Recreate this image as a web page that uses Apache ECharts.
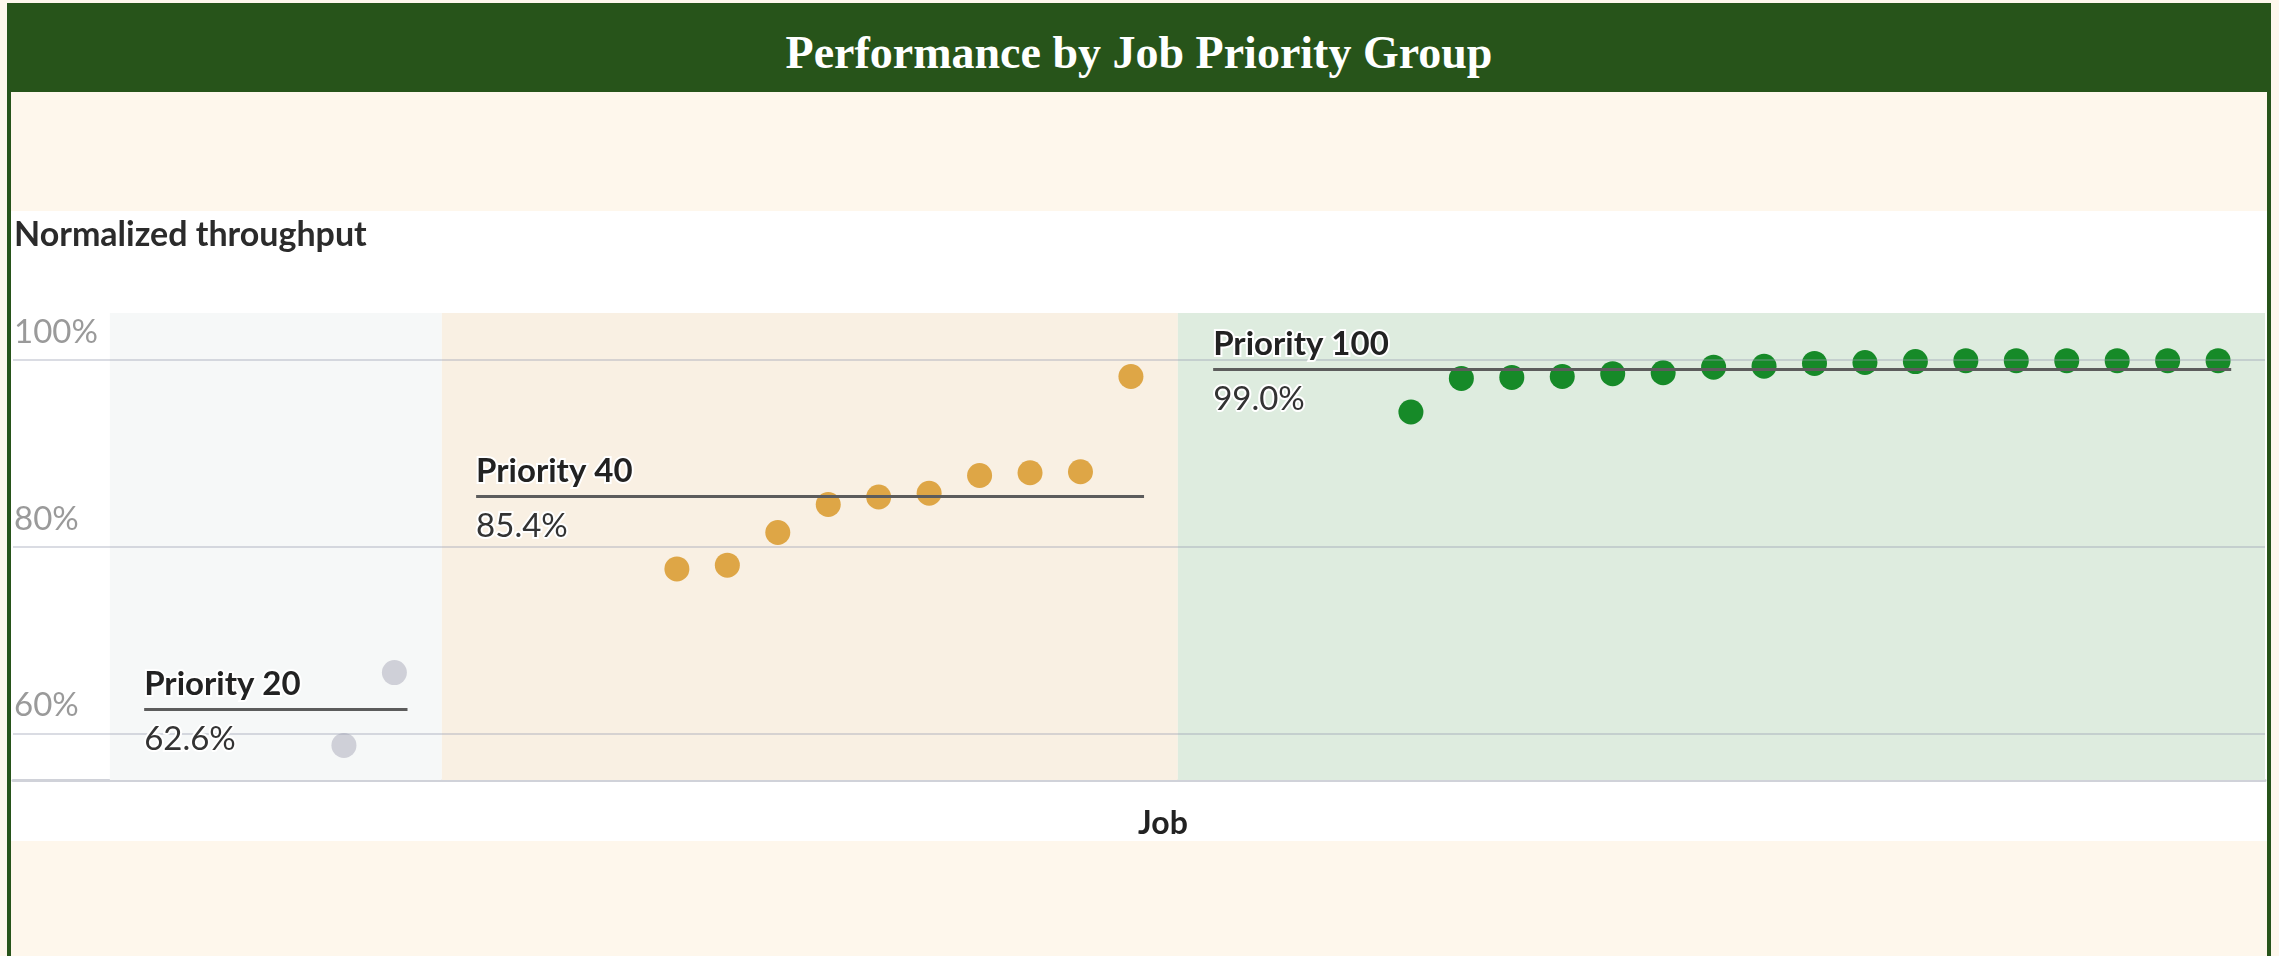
<!DOCTYPE html>
<html lang="en">
<head>
    <meta charset="UTF-8">
    <title>Performance by Job Priority Group</title>
    <style>
        html, body { margin: 0; padding: 0; }
        body { width: 2279px; height: 956px; background: #fef7ec; position: relative; overflow: hidden; }
        #header {
            position: absolute; left: 7px; top: 3px; width: 2264px; height: 89px;
            background: #27541a; color: #fff; text-align: center;
            font-family: "Liberation Serif", serif; font-weight: bold; font-size: 46px; line-height: 100px;
        }
        .border { position: absolute; top: 3px; width: 4px; height: 953px; background: #27541a; }
        #panel { position: absolute; left: 11px; top: 211px; width: 2256px; height: 630px; background: #fff; }
        #main { position: absolute; left: 11px; top: 211px; width: 2256px; height: 630px; }
    </style>
</head>
<body>
    <div id="header">Performance by Job Priority Group</div>
    <div class="border" style="left:7px"></div>
    <div class="border" style="left:2267px"></div>
    <div id="panel"></div>
    <div id="main"></div>
    <script src="https://cdn.jsdelivr.net/npm/echarts@6/dist/echarts.min.js"></script>
    <script>
        // data
        var groups = ['Priority 20', 'Priority 40', 'Priority 100'];
        var groupMeans = [62.6, 85.4, 99.0];
        var p20Values = [58.7, 66.5];
        var p40Values = [77.6, 78.0, 81.5, 84.5, 85.3, 85.7, 87.6, 87.9, 88.0, 98.2];
        var p100Values = [94.4, 98.0, 98.1, 98.2, 98.5, 98.6, 99.2, 99.3, 99.6, 99.7, 99.8, 99.9, 99.9, 99.9, 99.9, 99.9, 99.9];
        var yTicks = [60, 80, 100];

        // layout (x in job slots)
        var bandEdges = [1.92, 8.5, 23.09, 44.64];
        var firstJob = [6.56, 13.16, 27.71];
        var meanStart = [2.6, 9.18, 23.79];
        var dotColors = ['#cfd0d8', '#dea646', '#168a28'];
        var bandColors = ['#f6f8f8', '#f9f0e3', '#deecdf'];
        var FONT = 'Lato, "Noto Sans", sans-serif';

        var groupValues = [p20Values, p40Values, p100Values];

        function points(vals, start) {
            return vals.map(function (v, i) { return [start + i, v]; });
        }

        var bandData = bandColors.map(function (c, i) {
            return [{ xAxis: bandEdges[i], itemStyle: { color: c } }, { xAxis: bandEdges[i + 1] }];
        });

        // mean line per group: name above, value below
        var meanData = [];
        groups.forEach(function (g, i) {
            var x2 = firstJob[i] + groupValues[i].length - 1 + 0.26;
            meanData.push([
                { coord: [meanStart[i], groupMeans[i]], label: { position: 'insideStartTop', distance: [0, 10], formatter: g, fontWeight: 'bold', color: '#222' } },
                { coord: [x2, groupMeans[i]] }
            ]);
            meanData.push([
                { coord: [meanStart[i], groupMeans[i]], lineStyle: { color: 'rgba(0,0,0,0)' }, label: { position: 'insideStartBottom', distance: [0, 15], formatter: groupMeans[i].toFixed(1) + '%', fontWeight: 'normal', color: '#333' } },
                { coord: [x2, groupMeans[i]] }
            ]);
        });

        var option = {
            animation: false,
            title: {
                text: 'Normalized throughput',
                left: 3, top: 7, padding: 0,
                textStyle: { fontFamily: FONT, fontSize: 34, fontWeight: 'bold', color: '#2b2b2b' }
            },
            grid: { left: 2, right: 2, top: 102, bottom: 61, outerBoundsMode: 'none' },
            xAxis: {
                type: 'value', min: 0, max: bandEdges[3],
                name: 'Job', nameLocation: 'middle', nameGap: 28,
                nameTextStyle: { fontFamily: FONT, fontSize: 32, fontWeight: 'bold', color: '#222', padding: [0, 0, 0, 48] },
                axisLine: { show: true, lineStyle: { color: 'rgba(150,155,170,0.45)', width: 3 } },
                axisTick: { show: false }, axisLabel: { show: false }, splitLine: { show: false }
            },
            yAxis: {
                type: 'value', min: 55, max: 105,
                axisLine: { show: false }, axisTick: { show: false }, axisLabel: { show: false }, splitLine: { show: false }
            },
            series: [{
                type: 'line', data: [], z: 0, silent: true,
                markArea: { silent: true, data: bandData }
            }, {
                type: 'line', data: [], z: 1, silent: true,
                markLine: {
                    silent: true, symbol: 'none',
                    lineStyle: { type: 'solid', color: 'rgba(150,155,175,0.35)', width: 2 },
                    label: { position: 'insideStartTop', distance: [1, 11], fontFamily: FONT, fontSize: 33, color: '#9a9a9a' },
                    data: yTicks.map(function (t) { return { yAxis: t, label: { formatter: t + '%' } }; })
                }
            }, {
                type: 'line', data: [], z: 2, silent: true,
                markLine: {
                    silent: true, symbol: 'none',
                    lineStyle: { type: 'solid', color: '#5c5c5c', width: 3 },
                    label: { fontFamily: FONT, fontSize: 33, lineHeight: 30, textBorderColor: '#fff', textBorderWidth: 4 },
                    data: meanData
                }
            }].concat(groupValues.map(function (vals, i) {
                return {
                    name: groups[i], type: 'scatter', z: 3,
                    symbolSize: 25,
                    itemStyle: { color: dotColors[i], opacity: 1 },
                    data: points(vals, firstJob[i])
                };
            }))
        };

        var chart = echarts.init(document.getElementById('main'));
        chart.setOption(option);
    </script>
</body>
</html>
